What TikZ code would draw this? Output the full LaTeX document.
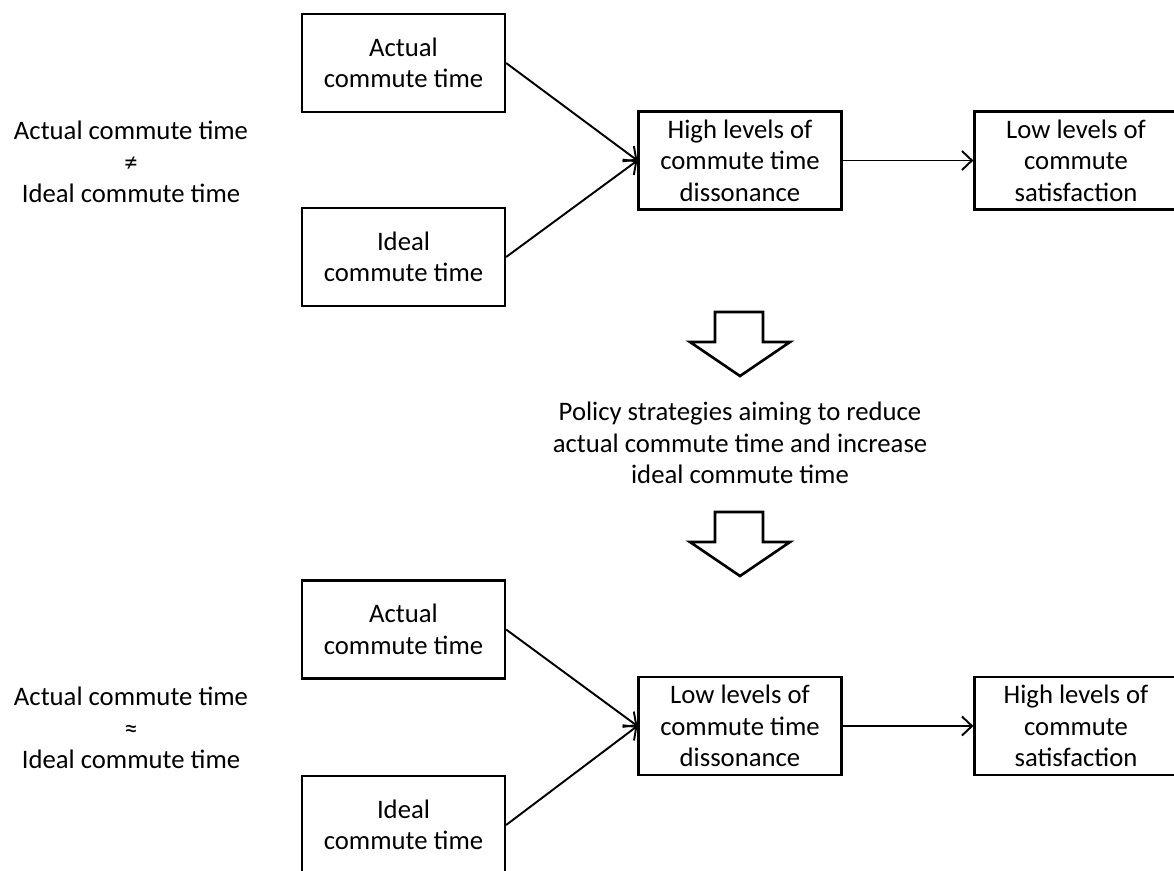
\documentclass[tikz,border=0pt]{standalone}
\usepackage{fontspec}
\setmainfont{Carlito}
\usetikzlibrary{arrows.meta,positioning}

\begin{document}
\begin{tikzpicture}[x=0.02cm, y=-0.02cm,
  box/.style={draw, line width=1.3pt, align=center, minimum width=4.06cm, minimum height=1.96cm, inner sep=2pt, font=\fontsize{15.2}{17.9}\selectfont},
  note/.style={align=center, font=\fontsize{15.2}{17.9}\selectfont},
  arr/.style={-{Straight Barb[length=2mm,width=3.8mm]}, line width=1.1pt},
  bigarrow/.style={draw, line width=1.5pt, line join=miter}
]
\useasboundingbox (0,0) rectangle (1174,870);

% upper panel
\node[box] (actualA) at (403.5,63) {Actual\\commute time};
\node[box] (idealA) at (403.5,257) {Ideal\\commute time};
\node[box] (dissA) at (740,160.5) {High levels of\\commute time\\dissonance};
\node[box] (satA) at (1076,160.5) {Low levels of\\commute\\satisfaction};
\node[note] (gapA) at (131,162) {Actual commute time\\≠\\Ideal commute time};

\draw[arr] (actualA.east) -- (dissA.west);
\draw[arr] (idealA.east) -- (dissA.west);
\draw[arr] (dissA) -- (satA);

% policy step
\foreach \top in {312,512}
  \draw[bigarrow] (715,\top) -- (763,\top) -- (763,\top+30) -- (790,\top+30)
    -- (740,\top+64) -- (690,\top+30) -- (715,\top+30) -- cycle;
\node[note] (policy) at (740,443) {Policy strategies aiming to reduce\\actual commute time and increase\\ideal commute time};

% lower panel
\node[box] (actualB) at (403.5,629.5) {Actual\\commute time};
\node[box] (idealB) at (403.5,825) {Ideal\\commute time};
\node[box] (dissB) at (740,726) {Low levels of\\commute time\\dissonance};
\node[box] (satB) at (1076,726) {High levels of\\commute\\satisfaction};
\node[note] (gapB) at (131,728) {Actual commute time\\≈\\Ideal commute time};

\draw[arr] (actualB.east) -- (dissB.west);
\draw[arr] (idealB.east) -- (dissB.west);
\draw[arr] (dissB) -- (satB);

\end{tikzpicture}
\end{document}
